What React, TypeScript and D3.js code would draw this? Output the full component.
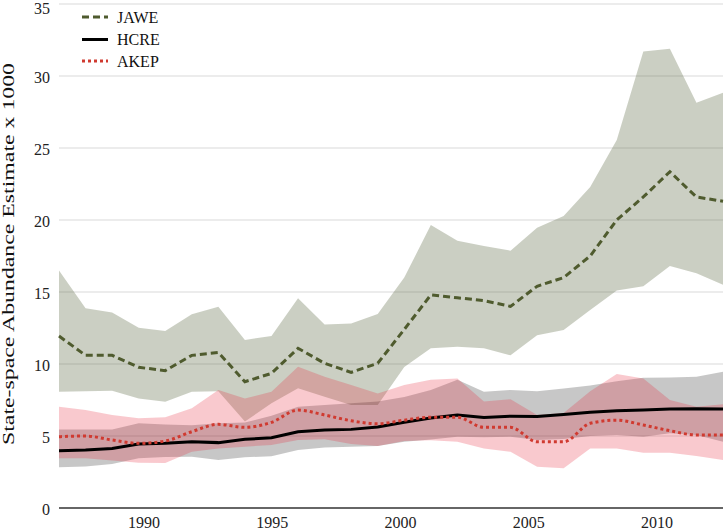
import React from "react";
import * as d3 from "d3";

const years = [1987,1988,1989,1990,1991,1992,1993,1994,1995,1996,1997,1998,1999,2000,2001,2002,2003,2004,2005,2006,2007,2008,2009,2010,2011,2012];

const jaweMean = [11.94,10.6,10.6,9.77,9.54,10.6,10.8,8.77,9.35,11.09,10.05,9.42,10.05,12.4,14.8,14.6,14.4,14.0,15.4,16.0,17.5,20.0,21.6,23.35,21.6,21.3];
const jaweUpper = [16.5,13.87,13.57,12.52,12.29,13.45,13.98,11.67,11.94,14.56,12.75,12.82,13.47,16.0,19.65,18.56,18.19,17.87,19.47,20.28,22.3,25.56,31.7,31.9,28.15,28.84];
const jaweLower = [8.08,8.1,8.15,7.6,7.38,8.08,8.1,6.0,7.27,8.31,7.73,7.15,7.15,9.8,11.1,11.2,11.1,10.6,12.0,12.36,13.75,15.1,15.4,16.8,16.3,15.5];

const hcreMean = [3.98,4.03,4.14,4.44,4.49,4.6,4.54,4.77,4.88,5.3,5.42,5.46,5.62,5.95,6.25,6.45,6.28,6.38,6.35,6.5,6.65,6.75,6.8,6.87,6.9,6.88];
const hcreUpper = [5.46,5.46,5.46,5.88,5.8,5.75,5.88,5.93,6.4,7.03,7.15,7.27,7.4,7.7,8.2,8.9,8.08,8.2,8.1,8.3,8.5,8.8,9.05,9.07,9.12,9.47];
const hcreLower = [2.83,2.88,3.05,3.45,3.55,3.56,3.33,3.52,3.6,4.03,4.2,4.25,4.3,4.6,4.75,4.95,4.91,4.95,4.72,4.79,5.0,5.07,4.95,5.19,5.07,4.6];

const akepMean = [4.95,5.0,4.72,4.49,4.65,5.3,5.81,5.6,5.95,6.8,6.46,6.06,5.85,6.1,6.3,6.3,5.6,5.6,4.6,4.6,5.88,6.1,5.76,5.37,5.07,5.07];
const akepUpper = [7.03,6.8,6.46,6.23,6.3,6.92,8.19,7.6,8.08,9.81,9.12,8.54,7.96,8.54,8.9,9.0,7.4,7.55,6.46,6.6,8.1,9.3,9.0,7.5,7.03,7.2];
const akepLower = [3.45,3.45,3.3,3.15,3.12,3.9,4.14,4.26,4.37,4.72,4.77,4.45,4.3,4.65,4.7,4.6,4.14,3.91,2.87,2.76,4.14,4.14,3.84,3.84,3.61,3.33];

const yTicks = [0,5,10,15,20,25,30,35];
const xTicks = [1990,1995,2000,2005,2010];
const seriesNames = ["JAWE","HCRE","AKEP"];

const W = 724, H = 531;
const left = 59, right = 723, top = 4, bottom = 508;

export default function App() {
  const x = d3.scaleLinear().domain([1987, 2012]).range([left, right]);
  const xAxisScale = d3.scaleLinear().domain([1986.69, 2012.57]).range([left, right]);
  const y = d3.scaleLinear().domain([0, 35]).range([bottom, top]);

  const idx = years.map((_, i) => i);
  const mkArea = (lo: number[], hi: number[]) =>
    d3.area<number>().x((d) => x(years[d])).y0((d) => y(lo[d])).y1((d) => y(hi[d]))(idx) || "";
  const mkLine = (v: number[], curve: any = d3.curveLinear) =>
    d3.line<number>().x((d) => x(years[d])).y((d) => y(v[d])).curve(curve)(idx) || "";

  const font = "'Liberation Serif', 'Times New Roman', serif";

  const legendStyles = [
    { stroke: "#4f5b2e", dash: "7,4", w: 3 },
    { stroke: "#000000", dash: "", w: 3 },
    { stroke: "#d03a30", dash: "3,3", w: 3 },
  ];

  return (
    <svg width={W} height={H} style={{ position: "absolute", left: 0, top: 0, background: "#fff" }} fontFamily={font}>
      {yTicks.filter((t) => t > 0).map((t) => (
        <line key={"g" + t} x1={left} x2={right} y1={y(t)} y2={y(t)} stroke="#e6e6e6" strokeWidth={1.5} />
      ))}
      <path d={mkArea(jaweLower, jaweUpper)} fill="#6b7553" fillOpacity={0.35} />
      <path d={mkArea(hcreLower, hcreUpper)} fill="#000000" fillOpacity={0.22} />
      <path d={mkArea(akepLower, akepUpper)} fill="#e6283c" fillOpacity={0.25} />
      <line x1={left} x2={right} y1={y(0)} y2={y(0)} stroke="#666" strokeWidth={2} />
      <path d={mkLine(jaweMean)} fill="none" stroke="#4f5b2e" strokeWidth={3} strokeDasharray="7,4" />
      <path d={mkLine(hcreMean)} fill="none" stroke="#000" strokeWidth={3} />
      <path d={mkLine(akepMean, d3.curveMonotoneX)} fill="none" stroke="#d03a30" strokeWidth={3} strokeDasharray="3,3" />
      {yTicks.map((t) => (
        <text key={"yl" + t} x={50} y={Math.max(y(t) + 1, 8)} dy="0.35em" textAnchor="end" fontSize={16} fill="#222">{t}</text>
      ))}
      {xTicks.map((t) => (
        <text key={"xl" + t} x={xAxisScale(t)} y={528} textAnchor="middle" fontSize={16} fill="#222">{t}</text>
      ))}
      <text transform={`translate(14,254) rotate(-90)`} textAnchor="middle" fontSize={17} fill="#111"
        textLength={382} lengthAdjust="spacingAndGlyphs">State-space Abundance Estimate  x 1000</text>
      {seriesNames.map((n, i) => {
        const ly = [17, 39.5, 61][i];
        const s = legendStyles[i];
        return (
          <g key={n}>
            <line x1={82} x2={108} y1={ly} y2={ly} stroke={s.stroke} strokeWidth={s.w} strokeDasharray={s.dash} />
            <text x={117} y={ly} dy="0.35em" fontSize={16} fill="#111">{n}</text>
          </g>
        );
      })}
    </svg>
  );
}
